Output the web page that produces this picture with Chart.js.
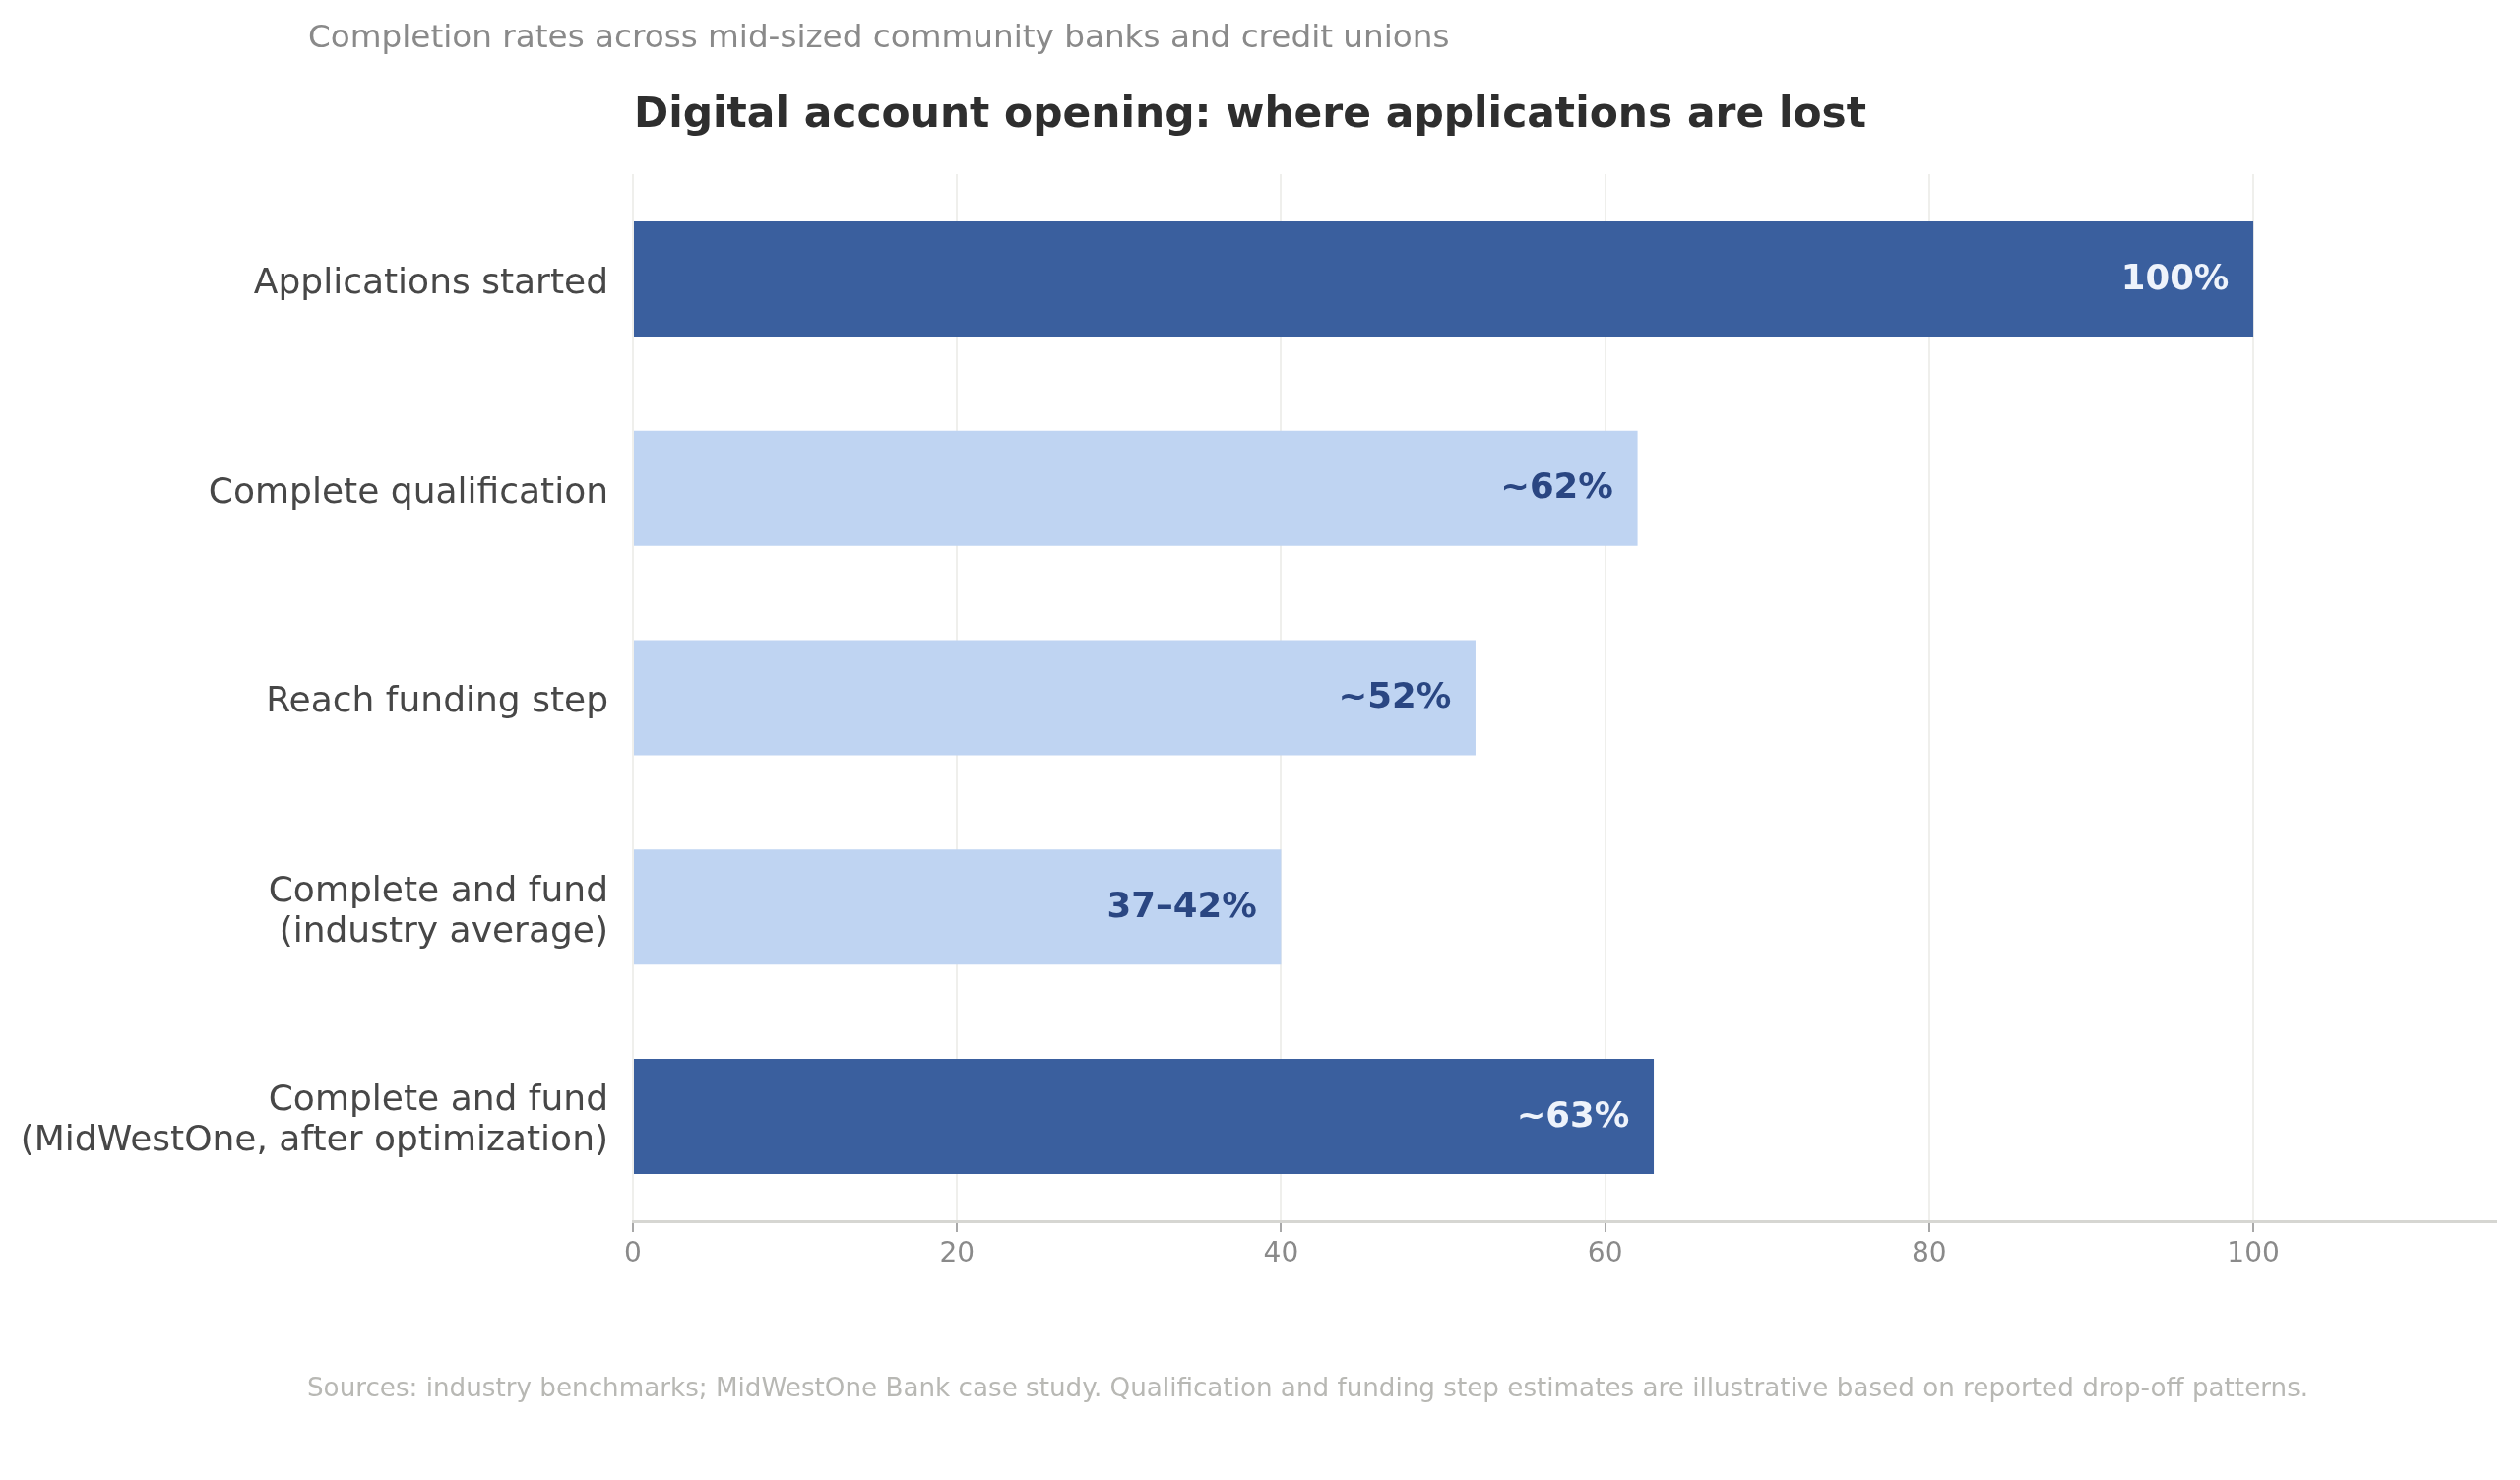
<!DOCTYPE html>
<html>
<head>
<meta charset="utf-8">
<script src="https://cdn.jsdelivr.net/npm/chart.js@4.4.1/dist/chart.umd.min.js"></script>
<style>
  html, body { margin: 0; padding: 0; background: #ffffff; }
  #wrap { position: relative; width: 2560px; height: 1504px; overflow: hidden; font-family: "DejaVu Sans", sans-serif; }
  #chart { position: absolute; left: 0; top: 0; }
  .txt { position: absolute; white-space: nowrap; line-height: 1; }
  #subtitle { left: 313px; top: 21px; font-size: 32.65px; color: #8a8a8a; }
  #title { left: 644px; top: 94px; font-size: 42.4px; font-weight: bold; color: #2e2e2e; }
  #footer { left: 312px; top: 1397px; font-size: 26.2px; color: #b8b8b4; }
</style>
</head>
<body>
<div id="wrap">
  <canvas id="chart" width="2560" height="1504"></canvas>
  <div class="txt" id="subtitle">Completion rates across mid-sized community banks and credit unions</div>
  <div class="txt" id="title">Digital account opening: where applications are lost</div>
  <div class="txt" id="footer">Sources: industry benchmarks; MidWestOne Bank case study. Qualification and funding step estimates are illustrative based on reported drop-off patterns.</div>
</div>
<script>
// ---- data ----
const categories = [
  'Applications started',
  'Complete qualification',
  'Reach funding step',
  ['Complete and fund', '(industry average)'],
  ['Complete and fund', '(MidWestOne, after optimization)']
];
const completionValues = [100, 62, 52, 40, 63];
const valueLabels = ['100%', '~62%', '~52%', '37\u201342%', '~63%'];
const highlighted = [true, false, false, false, true];
const xTickValues = [0, 20, 40, 60, 80, 100];

// ---- styles ----
const DARK = '#3a5f9e';
const LIGHT = '#bfd4f2';
const LABEL_ON_DARK = '#eef3fb';
const LABEL_ON_LIGHT = '#2a4682';

const valueLabelPlugin = {
  id: 'valueLabels',
  afterLayout(chart) {
    // nudge category labels down slightly so glyphs sit centred on the bars
    const ys = chart.scales.y;
    ys.getLabelItems().forEach(it => { it.options.translation[1] += 5; });
  },
  afterDatasetsDraw(chart) {
    const ctx = chart.ctx;
    const meta = chart.getDatasetMeta(0);
    const xs = chart.scales.x;
    ctx.save();
    ctx.font = 'bold 35.5px "DejaVu Sans", sans-serif';
    ctx.textAlign = 'right';
    ctx.textBaseline = 'middle';
    meta.data.forEach((bar, i) => {
      const v = completionValues[i];
      const x = xs.getPixelForValue(v - 1.5);
      ctx.fillStyle = highlighted[i] ? LABEL_ON_DARK : LABEL_ON_LIGHT;
      ctx.fillText(valueLabels[i], x, bar.y + 1);
    });
    ctx.restore();
  }
};

new Chart(document.getElementById('chart'), {
  type: 'bar',
  data: {
    labels: categories,
    datasets: [{
      data: completionValues,
      backgroundColor: highlighted.map(h => h ? DARK : LIGHT),
      borderWidth: 0,
      barPercentage: 0.55,
      categoryPercentage: 1.0
    }]
  },
  options: {
    indexAxis: 'y',
    responsive: false,
    animation: false,
    devicePixelRatio: 1,
    layout: { padding: { top: 177, right: 24, bottom: 0, left: 0 } },
    plugins: {
      legend: { display: false },
      tooltip: { enabled: false },
      title: { display: false }
    },
    scales: {
      x: {
        type: 'linear',
        min: 0,
        max: 115,
        afterBuildTicks: (scale) => {
          scale.ticks = xTickValues.map(v => ({ value: v }));
        },
        afterFit: (scale) => { scale.height = 263; },
        ticks: {
          color: '#8a8a8a',
          font: { family: '"DejaVu Sans", sans-serif', size: 28 },
          padding: 6,
          maxRotation: 0,
          autoSkip: false
        },
        grid: {
          color: '#efefec',
          lineWidth: 2,
          drawTicks: true,
          tickLength: 11,
          tickColor: '#a8a8a8',
          tickWidth: 2
        },
        border: { display: true, color: '#d6d6d2', width: 3 }
      },
      y: {
        afterFit: (scale) => { scale.width = 643; },
        ticks: {
          color: '#474747',
          font: { family: '"DejaVu Sans", sans-serif', size: 36, lineHeight: 1.14 },
          padding: 25,
          autoSkip: false
        },
        grid: { display: false, drawTicks: false },
        border: { display: false }
      }
    }
  },
  plugins: [valueLabelPlugin]
});
</script>
</body>
</html>
